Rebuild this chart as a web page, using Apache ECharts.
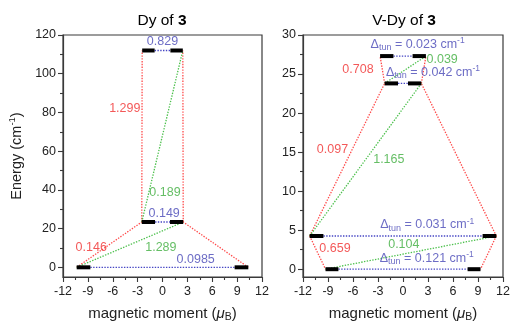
<!DOCTYPE html>
<html><head><meta charset="utf-8">
<script src="https://cdn.jsdelivr.net/npm/echarts@6/dist/echarts.min.js"></script>
<style>html,body{margin:0;padding:0;background:#fff}#c{width:511px;height:324px}</style>
</head><body><div id="c"></div>
<script>
// Kramers doublets: energy (cm-1) and the magnetic moment (μB) span of each level bar
const dyEnergy = [0, 23.4, 112];
const dyMomentOuter = [10.35, 2.5, 2.45];
const dyMomentInner = [8.7, 0.9, 0.95];
const vdyEnergy = [0, 4.25, 23.8, 27.3];
const vdyMomentOuter = [9.3, 11.2, 2.2, 2.75];
const vdyMomentInner = [7.75, 9.55, 0.6, 1.15];

// Transitions between level ends: [fromLevel, fromSide, toLevel, toSide]
const dyRed = [[0, -1, 1, -1], [0, 1, 1, 1], [1, -1, 2, -1], [1, 1, 2, 1]];
const dyGreen = [[0, -1, 1, 1], [1, -1, 2, 1]];
const vdyRed = [[1, -1, 0, -1], [1, 1, 0, 1], [1, -1, 2, -1], [1, 1, 2, 1], [2, -1, 3, -1], [2, 1, 3, 1]];
const vdyGreen = [[0, -1, 1, 1], [1, -1, 2, 1], [2, -1, 3, 1]];

// Transition matrix elements and tunnelling gaps
const dyValues = ['0.829', '1.299', '0.189', '0.149', '0.146', '1.289', '0.0985'];
const dyKinds = ['b', 'r', 'g', 'b', 'r', 'g', 'b'];
const vdyValues = ['0.023', '0.039', '0.708', '0.042', '0.097', '1.165', '0.031', '0.659', '0.104', '0.121'];
const vdyKinds = ['t', 'g', 'r', 't', 'r', 'g', 't', 'r', 'g', 't'];

// Tick labels
const dyTicks = [0, 20, 40, 60, 80, 100, 120];
const vdyTicks = [0, 5, 10, 15, 20, 25, 30];

// Where each annotation sits, in axis units
const dyTextAt = [[0, 116.6], [-4.55, 81.8], [0.3, 38.4], [0.2, 27.6], [-8.6, 10], [-0.2, 10], [4.0, 3.9]];
const vdyTextAt = [[1.75, 28.8], [4.7, 26.9], [-5.4, 25.6], [3.6, 25.2], [-8.46, 15.3], [-1.7, 14.0],
                   [2.9, 5.66], [-8.16, 2.6], [0.1, 3.2], [2.85, 1.4]];

const FONT = '"Liberation Sans", Arial, sans-serif';
const RED = '#f02e2e', GREEN = '#3fae3f', BLUE = '#4747b6';
const LINE = { r: '#ff4a4a', g: '#4cc04c', b: '#4646c4' };
const AX = '#3a3a3a';

const chart = echarts.init(document.getElementById('c'), null, { renderer: 'canvas' });

function pt(energy, outer, lvl, side) { return [side * outer[lvl], energy[lvl]]; }

function panelSeries(gi, energy, outer, inner, reds, greens) {
  const s = [];
  const seg = (data, color) => s.push({
    type: 'line', xAxisIndex: gi, yAxisIndex: gi * 2, data, symbol: 'none', silent: true,
    lineStyle: { color, width: 1.3, type: [1.4, 1.4], cap: 'butt' }, z: 2
  });
  reds.forEach(t => seg([pt(energy, outer, t[0], t[1]), pt(energy, outer, t[2], t[3])], LINE.r));
  greens.forEach(t => seg([pt(energy, outer, t[0], t[1]), pt(energy, outer, t[2], t[3])], LINE.g));
  energy.forEach((e, i) => seg([[-inner[i], e], [inner[i], e]], LINE.b));
  energy.forEach((e, i) => {
    [-1, 1].forEach(side => s.push({
      type: 'line', xAxisIndex: gi, yAxisIndex: gi * 2, symbol: 'none', silent: true, z: 4,
      data: [[side * outer[i], e], [side * inner[i], e]],
      lineStyle: { color: '#000', width: 4, cap: 'butt' }
    }));
  });
  return s;
}

const rich = {
  n: { fontFamily: FONT, fontSize: 12.5, lineHeight: 16, color: BLUE },
  sub: { fontFamily: FONT, fontSize: 9, lineHeight: 9, verticalAlign: 'bottom', color: BLUE },
  sup: { fontFamily: FONT, fontSize: 8.5, lineHeight: 8, verticalAlign: 'top', color: BLUE }
};

function textSeries(gi, values, kinds, at) {
  return {
    type: 'scatter', xAxisIndex: gi, yAxisIndex: gi * 2, symbolSize: 0, silent: true, z: 6,
    itemStyle: { color: 'rgba(0,0,0,0)' },
    data: values.map((v, i) => {
      const k = kinds[i];
      const color = k === 'r' ? RED : k === 'g' ? GREEN : BLUE;
      const text = k === 't' ? '{n|Δ}{sub|tun}{n| = ' + v + ' cm}{sup|-1}' : v;
      return {
        value: at[i],
        label: {
          show: true, position: 'inside', formatter: text, color,
          fontFamily: FONT, fontSize: 12.5, rich, align: 'center', verticalAlign: 'middle'
        }
      };
    })
  };
}

const xName = '{a|magnetic moment (}{mu|μ}{b|B}{a|)}';
const xNameRich = {
  a: { fontFamily: FONT, fontSize: 15, color: '#222', lineHeight: 19 },
  mu: { fontFamily: FONT, fontSize: 15, fontStyle: 'italic', color: '#222', lineHeight: 19 },
  b: { fontFamily: FONT, fontSize: 10.5, color: '#222', lineHeight: 11, verticalAlign: 'bottom' }
};

function xAxis(gi) {
  return {
    type: 'value', gridIndex: gi, min: -12, max: 12, interval: 3,
    axisLine: { show: true, onZero: false, lineStyle: { color: AX, width: 1.2 } },
    axisTick: { show: true, length: 5, lineStyle: { color: AX, width: 1.1 } },
    minorTick: { show: true, splitNumber: 2, length: 3, lineStyle: { color: AX, width: 1.1 } },
    splitLine: { show: false },
    axisLabel: { fontFamily: FONT, fontSize: 12.5, color: '#222', margin: 8 },
    name: xName, nameLocation: 'middle', nameGap: 27,
    nameTextStyle: { rich: xNameRich }
  };
}

function yAxes(gi, min, max, ticks, minors, withName) {
  const main = {
    type: 'value', gridIndex: gi, min, max, position: 'left',
    axisLine: { show: true, onZero: false, lineStyle: { color: AX, width: 1.2 } },
    axisTick: { show: true, length: 5, customValues: ticks, lineStyle: { color: AX, width: 1.1 } },
    splitLine: { show: false },
    axisLabel: { fontFamily: FONT, fontSize: 12.5, color: '#222', margin: 7, customValues: ticks }
  };
  if (withName) {
    Object.assign(main, {
      name: '{a|Energy (cm}{s|-1}{a|)}', nameLocation: 'middle', nameGap: 37, nameRotate: 90,
      nameTextStyle: {
        rich: {
          a: { fontFamily: FONT, fontSize: 14.5, color: '#222', lineHeight: 19 },
          s: { fontFamily: FONT, fontSize: 9.5, color: '#222', lineHeight: 9, verticalAlign: 'top' }
        }
      }
    });
  }
  const minor = {
    type: 'value', gridIndex: gi, min, max, position: 'left', offset: 0,
    axisLine: { show: false, onZero: false },
    axisTick: { show: true, length: 3, customValues: minors, lineStyle: { color: AX, width: 1.1 } },
    axisLabel: { show: false }, splitLine: { show: false }
  };
  return [main, minor];
}

const titleRich = {
  a: { fontFamily: FONT, fontSize: 15.5, color: '#111' },
  b: { fontFamily: FONT, fontSize: 15.5, fontWeight: 'bold', color: '#111' }
};

const gridBase = {
  top: 35, height: 242, show: true, borderColor: AX, borderWidth: 1.2,
  backgroundColor: 'transparent', containLabel: false, outerBoundsMode: 'none'
};

const option = {
  animation: false,
  backgroundColor: '#fff',
  grid: [
    Object.assign({ left: 63, width: 199 }, gridBase),
    Object.assign({ left: 303, width: 200 }, gridBase)
  ],
  xAxis: [xAxis(0), xAxis(1)],
  yAxis: [
    ...yAxes(0, -5, 120, dyTicks, [10, 30, 50, 70, 90, 110], true),
    ...yAxes(1, -1, 30, vdyTicks, [2.5, 7.5, 12.5, 17.5, 22.5, 27.5], false)
  ],
  graphic: [
    { type: 'text', x: 162, y: 21, style: { text: '{a|Dy of }{b|3}', rich: titleRich, align: 'center', verticalAlign: 'middle' } },
    { type: 'text', x: 404, y: 21, style: { text: '{a|V-Dy of }{b|3}', rich: titleRich, align: 'center', verticalAlign: 'middle' } }
  ],
  series: [
    ...panelSeries(0, dyEnergy, dyMomentOuter, dyMomentInner, dyRed, dyGreen),
    ...panelSeries(1, vdyEnergy, vdyMomentOuter, vdyMomentInner, vdyRed, vdyGreen),
    textSeries(0, dyValues, dyKinds, dyTextAt),
    textSeries(1, vdyValues, vdyKinds, vdyTextAt)
  ]
};

chart.setOption(option);
</script>
</body></html>
